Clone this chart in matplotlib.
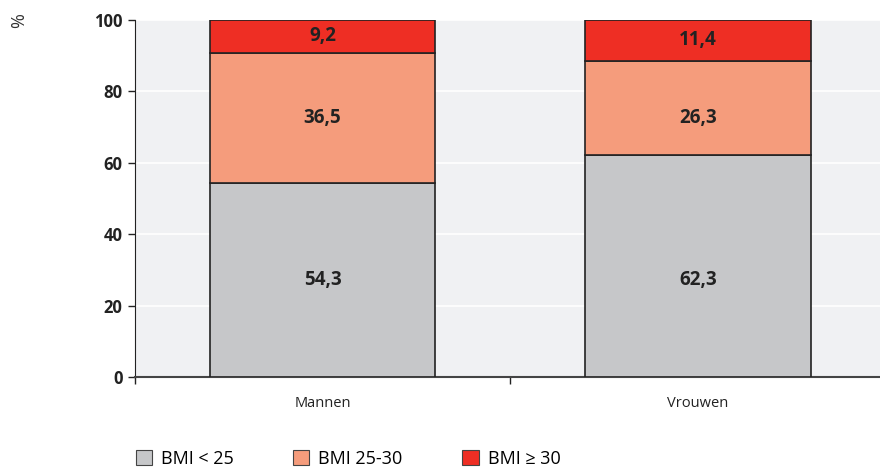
import matplotlib.pyplot as plt
from matplotlib.patches import Patch

plt.rcParams['font.family'] = ['Open Sans', 'DejaVu Sans']

groepen = ['Mannen', 'Vrouwen']
bmi_laag = [54.3, 62.3]
bmi_midden = [36.5, 26.3]
bmi_hoog = [9.2, 11.4]
reeksen = ['BMI < 25', 'BMI 25-30', 'BMI ≥ 30']
kleuren = ['#c6c7c9', '#f59c7c', '#ee2e24']

fig = plt.figure(figsize=(8.8, 4.68), dpi=100)
ax = fig.add_axes([0.1534, 0.1944, 0.8466, 0.7629])
ax.set_facecolor('#f0f1f3')

x = range(len(groepen))
series = [bmi_laag, bmi_midden, bmi_hoog]
onder = [0, 0]
for i, (waarden, kleur) in enumerate(zip(series, kleuren)):
    ax.bar(x, waarden, bottom=onder, width=0.6, color=kleur,
           edgecolor='#222222', linewidth=1.2, zorder=3)
    for xi, w, b in zip(x, waarden, onder):
        # in het origineel staan de onderste labels op dezelfde hoogte als bij Mannen
        y = b + w / 2 if i == len(series) - 1 else onder[0] + waarden[0] / 2
        ax.text(xi, y, f'{w:.1f}'.replace('.', ','), ha='center', va='center',
                fontsize=13.5, fontweight='bold', color='#222222', zorder=4)
    onder = [o + w for o, w in zip(onder, waarden)]

ax.set_xlim(-0.5, 1.485)
ax.set_ylim(0, 100)
ax.set_yticks([0, 20, 40, 60, 80, 100])
ax.tick_params(axis='y', labelsize=12, length=5, width=1, color='#222222', pad=4)
for lab in ax.get_yticklabels():
    lab.set_fontweight('bold')
    lab.set_color('#222222')
ax.set_xticks([-0.5, 0.5])
ax.set_xticklabels([])
ax.tick_params(axis='x', length=5, width=1, color='#222222', direction='out')
for xi, g in zip(x, groepen):
    ax.text(xi, -5.2, g, ha='center', va='top', fontsize=10.5, color='#222222')

ax.grid(axis='y', color='white', linewidth=1.2, zorder=0)
for s in ['top', 'right']:
    ax.spines[s].set_visible(False)
ax.spines['left'].set_color('#222222')
ax.spines['bottom'].set_color('#444444')
ax.spines['bottom'].set_linewidth(1.5)

fig.text(0.022, 0.955, '%', rotation=90, ha='center', va='center', fontsize=13, color='#333333')

handles = [Patch(facecolor=k, edgecolor='#444444', linewidth=0.8) for k in kleuren]
fig.legend(handles, reeksen, loc='lower left', bbox_to_anchor=(0.15, -0.008), ncol=3,
           frameon=False, fontsize=13, handlelength=0.9, handleheight=0.9,
           columnspacing=3.3, handletextpad=0.5, borderaxespad=0, borderpad=0.2)

fig.savefig('out.png', dpi=100)
